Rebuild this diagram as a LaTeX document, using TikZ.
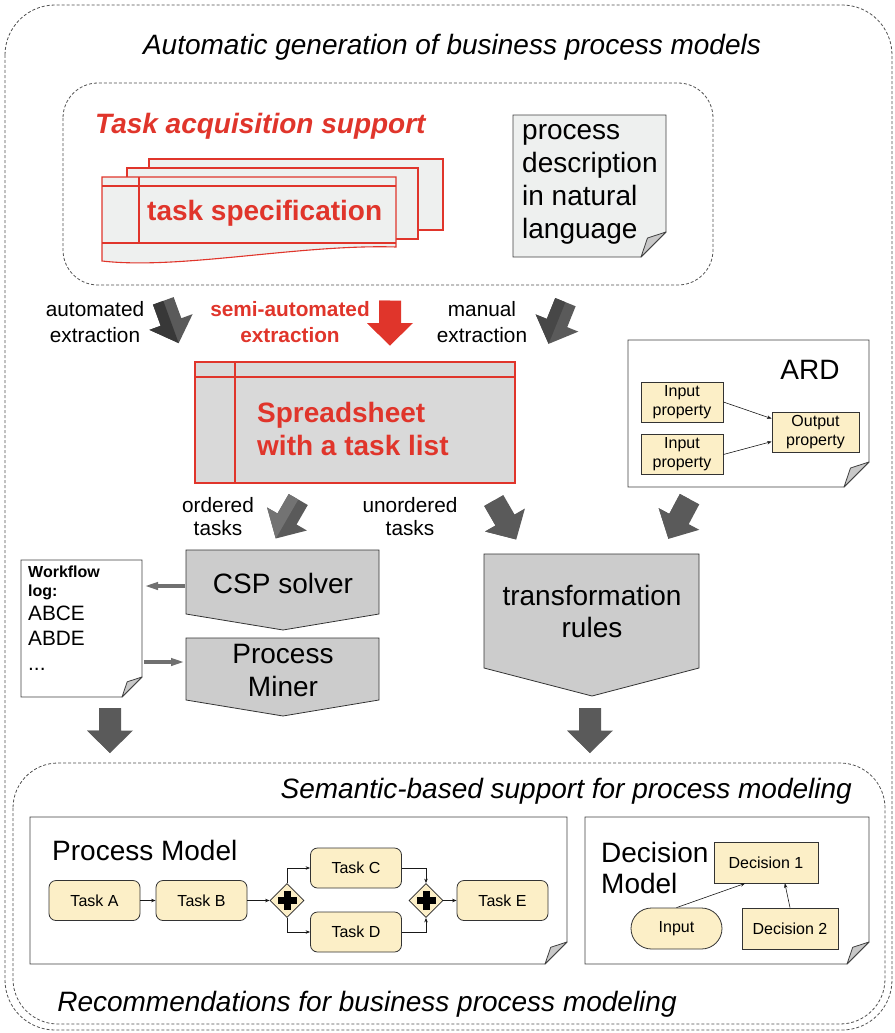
\documentclass[tikz,border=0pt]{standalone}
\usepackage{fontspec}
\setmainfont{Liberation Sans}
\usetikzlibrary{arrows.meta,calc,shapes.geometric}
\definecolor{myred}{HTML}{E0352B}
\definecolor{sheetfill}{HTML}{EEF0EF}
\definecolor{ssfill}{HTML}{D9D9D9}
\definecolor{pfill}{HTML}{CCCCCC}
\definecolor{darrow}{HTML}{5A5A5A}
\definecolor{cream}{HTML}{FCEFC7}
\definecolor{foldc}{HTML}{C8C8C8}
\definecolor{frameC}{HTML}{505050}
\definecolor{conn}{HTML}{707070}

% document with folded corner, drawn around an (invisible) named node
\newcommand{\docfold}[3]{%
  \filldraw[fill=#3, draw=black!75, line width=0.8pt] (#1.north west) -- (#1.north east) -- ($(#1.south east)+(0,-#2)$) -- ($(#1.south east)+(-#2,0)$) -- (#1.south west) -- cycle;
  \filldraw[fill=foldc, draw=black!75, line width=0.8pt, line join=round] ($(#1.south east)+(0,-#2)$) -- ($(#1.south east)+(-0.74*#2,-0.76*#2)$) -- ($(#1.south east)+(-#2,0)$) -- cycle;}

% block arrow: centre x, centre y, angle, left-face colour, right-face colour
\newcommand{\blockarr}[5]{%
  \fill[#5,shift={(#1,#2)},rotate=#3] (-11,-22.5) -- (11,-22.5) -- (11,0) -- (23,0) -- (0,22.5) -- (-23,0) -- (-11,0) -- cycle;
  \fill[#4,shift={(#1,#2)},rotate=#3] (0,-22.5) -- (-11,-22.5) -- (-11,0) -- (-23,0) -- (0,22.5) -- cycle;}

\begin{document}
\begin{tikzpicture}[x=1pt,y=-1pt,
  frame/.style={draw=frameC, line width=0.8pt, dash pattern=on 3pt off 2pt},
  big/.style={font=\fontsize{28}{33}\selectfont, inner sep=0pt},
  mid/.style={font=\fontsize{20.8}{25}\selectfont, inner sep=0pt},
  small/.style={font=\fontsize{16}{19}\selectfont, inner sep=0pt},
  docnode/.style={draw=none, inner sep=0pt, outer sep=0pt},
  sheet/.style={fill=sheetfill, draw=myred, line width=1.1pt},
  pent/.style={fill=pfill, draw=black!80, line width=0.8pt},
  task/.style={draw=black!80, fill=cream, rounded corners=7pt, line width=0.8pt,
    minimum width=91pt, minimum height=40pt, inner sep=0pt, font=\fontsize{16}{19}\selectfont},
  prop/.style={draw=black!80, fill=cream, line width=0.8pt, inner sep=0pt,
    minimum height=40pt, align=center, font=\fontsize{16}{19}\selectfont},
  gate/.style={diamond, draw=black!85, fill=cream, line width=0.8pt, inner sep=0pt,
    minimum width=34pt, minimum height=34pt},
  flow/.style={-{Stealth[length=4.5pt,width=3.5pt]}, line width=0.6pt, draw=black!90},
  gconn/.style={-{Triangle[length=14pt,width=7pt]}, line width=3.5pt, draw=conn}
]
\useasboundingbox (0,0) rectangle (894,1033);

% ---------- frames ----------
\draw[frame, rounded corners=50pt] (5,5) rectangle (892,1030);
\draw[frame, rounded corners=35pt] (63,83) rectangle (713,285);
\draw[frame, rounded corners=45pt] (13,763) rectangle (885,1024);

\node[big, anchor=base] (title) at (452,55) {\itshape Automatic generation of business process models};

% ---------- task acquisition ----------
\node[big, anchor=base west, text=myred] (tas) at (95,133) {\bfseries\itshape Task acquisition support};
\filldraw[sheet] (149,159) rectangle (443,230);
\filldraw[sheet] (127,168) rectangle (418,239);
\filldraw[sheet] (102,177) -- (396,177) -- (396,247) .. controls (300,244) and (180,270) .. (102,261) -- cycle;
\draw[myred, line width=1.1pt] (102,186) -- (396,186) (139,177) -- (139,243) (102,243) -- (396,243);
\node[big, anchor=base west, text=myred] (tspec) at (147,220) {\bfseries task specification};

% process description
\node[docnode, minimum width=153pt, minimum height=142pt] (pdesc) at (589.5,186) {};
\docfold{pdesc}{25}{sheetfill}
\node[big, anchor=base west] (pd1) at (522,139) {process};
\node[big, anchor=base west] (pd2) at (522,172) {description};
\node[big, anchor=base west] (pd3) at (522,205) {in natural};
\node[big, anchor=base west] (pd4) at (522,238) {language};

% ---------- extraction row ----------
\node[mid, anchor=base] (ae1) at (95,316) {automated};
\node[mid, anchor=base] (ae2) at (95,342) {extraction};
\blockarr{171}{322}{20}{black!78}{darrow}
\node[mid, anchor=base, text=myred] (se1) at (290,316) {\bfseries semi-automated};
\node[mid, anchor=base, text=myred] (se2) at (290,342) {\bfseries extraction};
\blockarr{390}{323}{0}{myred}{myred}
\node[mid, anchor=base] (me1) at (482,316) {manual};
\node[mid, anchor=base] (me2) at (482,342) {extraction};
\blockarr{557}{323}{-22}{black!72}{darrow}

% ---------- spreadsheet ----------
\node[draw=myred, fill=ssfill, line width=1.1pt, minimum width=320pt, minimum height=121pt, inner sep=0pt] (ss) at (355,422.5) {};
\draw[myred, line width=1.1pt] (195,377) -- (515,377) (235,362) -- (235,483);
\node[big, anchor=base west, text=myred] (ss1) at (257,422) {\bfseries Spreadsheet};
\node[big, anchor=base west, text=myred] (ss2) at (257,455) {\bfseries with a task list};

% ---------- ARD ----------
\node[docnode, minimum width=241pt, minimum height=147pt] (ard) at (748.5,413.5) {};
\docfold{ard}{25}{white}
\node[big, anchor=base] (ardt) at (810,379) {ARD};
\node[prop, minimum width=82pt] (in1) at (682,402) {Input\\property};
\node[prop, minimum width=82pt] (in2) at (682,454.5) {Input\\property};
\node[prop, minimum width=87pt] (out) at (815.5,432) {Output\\property};
\draw[flow] (in1.east) -- ($(out.north west)+(0,7)$);
\draw[flow] (in2.east) -- ($(out.north west)+(0,30)$);

% ---------- ordered / unordered ----------
\node[mid, anchor=base] (ot1) at (218,512) {ordered};
\node[mid, anchor=base] (ot2) at (218,535) {tasks};
\node[mid, anchor=base] (ut1) at (410,512) {unordered};
\node[mid, anchor=base] (ut2) at (410,535) {tasks};
\blockarr{287}{519}{-30}{black!55}{darrow}
\blockarr{505}{520}{30}{darrow}{darrow}
\blockarr{679}{519}{-28}{darrow}{darrow}

% ---------- CSP solver / Process Miner / transformation rules ----------
\filldraw[pent] (186,550) -- (379,550) -- (379,614) -- (283,630) -- (186,614) -- cycle;
\node[big] (csp) at (283,583) {CSP solver};
\filldraw[pent] (186,638) -- (379,638) -- (379,700) -- (283,716) -- (186,700) -- cycle;
\node[big, anchor=base] (pm1) at (283,663) {Process};
\node[big, anchor=base] (pm2) at (283,696) {Miner};
\filldraw[pent] (484,554) -- (699,554) -- (699,668) -- (592,696) -- (484,668) -- cycle;
\node[big, anchor=base] (tr1) at (592,605) {transformation};
\node[big, anchor=base] (tr2) at (592,637) {rules};
\coordinate (cspw) at (185,586);
\coordinate (pmw) at (185,662);

% workflow log
\node[docnode, minimum width=121pt, minimum height=137pt] (log) at (81.5,628.5) {};
\docfold{log}{20}{white}
\node[small, anchor=base west] (wl1) at (28,577) {\bfseries Workflow};
\node[small, anchor=base west] (wl2) at (28,596) {\bfseries log:};
\node[mid, anchor=base west] (wl3) at (28,620) {ABCE};
\node[mid, anchor=base west] (wl4) at (28,645) {ABDE};
\node[mid, anchor=base west] (wl5) at (28,670) {...};
\draw[gconn] (cspw) -- ([xshift=2pt]log.east |- cspw);
\draw[gconn] ([xshift=2pt]log.east |- pmw) -- (pmw);

% down arrows
\blockarr{110}{730.5}{0}{darrow}{darrow}
\blockarr{590}{730.5}{0}{darrow}{darrow}

% ---------- bottom section ----------
\node[big, anchor=base east] (sem) at (852,798) {\itshape Semantic-based support for process modeling};

\node[docnode, minimum width=537pt, minimum height=147pt] (pmod) at (298.5,890.5) {};
\docfold{pmod}{22}{white}
\node[big, anchor=base west] (pmt) at (52,860) {Process Model};
\node[task] (tA) at (94.5,900.5) {Task A};
\node[task] (tB) at (201.5,900.5) {Task B};
\node[gate] (g1) at (287,900.5) {};
\node[task] (tC) at (356,868) {Task C};
\node[task] (tD) at (356,932) {Task D};
\node[gate] (g2) at (426,900.5) {};
\node[task] (tE) at (502.5,900.5) {Task E};
\foreach \g in {g1,g2}{
  \fill[black] ($(\g)+(-9.5,-3.5)$) rectangle ($(\g)+(9.5,3.5)$);
  \fill[black] ($(\g)+(-3.5,-9.5)$) rectangle ($(\g)+(3.5,9.5)$);
}
\draw[flow] (tA) -- (tB);
\draw[flow] (tB) -- (g1);
\draw[flow] (g1.north) |- (tC.west);
\draw[flow] (g1.south) |- (tD.west);
\draw[flow] (tC.east) -| (g2.north);
\draw[flow] (tD.east) -| (g2.south);
\draw[flow] (g2) -- (tE);

\node[docnode, minimum width=284pt, minimum height=147pt] (dmod) at (727,890.5) {};
\docfold{dmod}{22}{white}
\node[big, anchor=base west] (dm1) at (601,862) {Decision};
\node[big, anchor=base west] (dm2) at (601,893) {Model};
\node[prop, minimum width=104pt, minimum height=41pt] (d1) at (766,862.5) {Decision 1};
\node[prop, minimum width=96pt, minimum height=41pt] (d2) at (790,928.5) {Decision 2};
\node[prop, minimum width=91pt, minimum height=41pt, rounded corners=20.5pt] (inp) at (676.5,928.5) {Input};
\draw[flow] (inp.north) -- ($(d1.south west)!0.3!(d1.south east)$);
\draw[flow] (d2.north) -- ($(d1.south west)!0.68!(d1.south east)$);

\node[big, anchor=base] (rec) at (367,1011) {\itshape Recommendations for business process modeling};
\end{tikzpicture}
\end{document}
